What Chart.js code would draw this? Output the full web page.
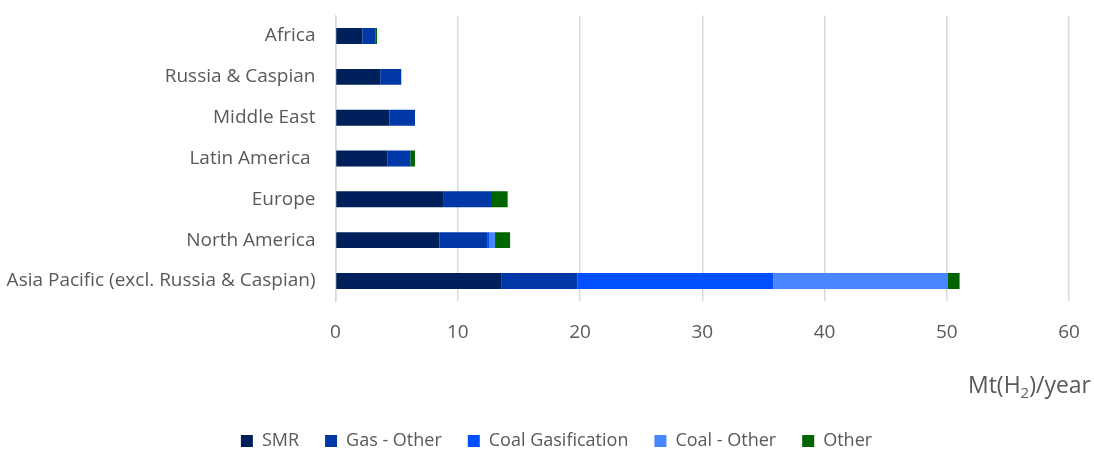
<!DOCTYPE html>
<html>
<head>
<meta charset="utf-8">
<script src="https://cdn.jsdelivr.net/npm/chart.js@4"></script>
<style>
  html, body { margin: 0; padding: 0; background: #fff; }
  #wrap { width: 1094px; height: 450px; }
</style>
</head>
<body>
<div id="wrap"><canvas id="chart" width="1094" height="450"></canvas></div>
<script>
const regions = ["Africa", "Russia & Caspian", "Middle East", "Latin America ", "Europe", "North America", "Asia Pacific (excl. Russia & Caspian)"];
const smr = [2.2, 3.66, 4.4, 4.23, 8.8, 8.5, 13.6];
const gasOther = [1.05, 1.72, 2.1, 1.89, 4.0, 3.9, 6.2];
const coalGasification = [0, 0, 0, 0, 0, 0.2, 16.0];
const coalOther = [0, 0, 0, 0, 0, 0.45, 14.3];
const other = [0.15, 0, 0, 0.38, 1.28, 1.23, 0.95];
const xTicks = [0, 10, 20, 30, 40, 50, 60];

const textColor = "#595959";
const font = "'Open Sans', sans-serif";

// axis title with a subscript 2, drawn under the right end of the x axis
const unitTitle = {
    id: "unitTitle",
    afterDraw(chart) {
        let ctx = chart.ctx;
        ctx.save();
        ctx.fillStyle = textColor;
        ctx.textBaseline = "alphabetic";
        let big = "23px " + font, small = "15px " + font;
        ctx.font = big;
        let w1 = ctx.measureText("Mt(H").width;
        let w3 = ctx.measureText(")/year").width;
        ctx.font = small;
        let w2 = ctx.measureText("2").width;
        let x = 1091 - (w1 + w2 + w3);
        let y = 393;
        ctx.font = big;
        ctx.fillText("Mt(H", x, y);
        ctx.font = small;
        ctx.fillText("2", x + w1, y + 5);
        ctx.font = big;
        ctx.fillText(")/year", x + w1 + w2, y);
        ctx.restore();
    }
};

// nudge the legend row down and right
const legendShift = {
    id: "legendShift",
    afterLayout(chart) {
        let lg = chart.legend;
        if (!lg) return;
        lg.top += 10;
        lg.bottom += 10;
        lg.left += 22;
        lg.right += 22;
        if (lg.adjustHitBoxes) lg.adjustHitBoxes();
    }
};

let ctx = document.getElementById("chart").getContext("2d");

let chart = new Chart(ctx, {
    type: "bar",
    data: {
        labels: regions,
        datasets: [
            { label: "SMR", data: smr, backgroundColor: "#00205B" },
            { label: "Gas - Other", data: gasOther, backgroundColor: "#0038A8" },
            { label: "Coal Gasification", data: coalGasification, backgroundColor: "#0050FF" },
            { label: "Coal - Other", data: coalOther, backgroundColor: "#4A86FF" },
            { label: "Other", data: other, backgroundColor: "#006400" }
        ]
    },
    options: {
        indexAxis: "y",
        responsive: false,
        animation: false,
        datasets: { bar: { categoryPercentage: 1, barPercentage: 0.39 } },
        layout: { padding: { top: 15.6, right: 25, left: 0, bottom: 0 } },
        scales: {
            x: {
                stacked: true,
                min: 0,
                max: 60,
                afterBuildTicks: scale => { scale.ticks = xTicks.map(v => ({ value: v })); },
                afterFit: scale => {
                    scale.height = 94.6;
                    scale.paddingLeft = 0;
                    scale.paddingRight = 0;
                },
                grid: { color: "#d9d9d9", lineWidth: 1.5, drawTicks: false },
                border: { display: false },
                ticks: { color: textColor, font: { family: font, size: 19 }, padding: 20 }
            },
            y: {
                stacked: true,
                afterFit: scale => {
                    scale.width = 335.5;
                    scale.paddingTop = 0;
                    scale.paddingBottom = 0;
                },
                grid: { display: false, drawTicks: false },
                border: { display: true, color: "#d9d9d9", width: 1.5 },
                ticks: { color: textColor, font: { family: font, size: 19 }, padding: 20 }
            }
        },
        plugins: {
            legend: {
                position: "bottom",
                labels: {
                    boxWidth: 12,
                    boxHeight: 12,
                    padding: 26,
                    color: textColor,
                    font: { family: font, size: 18 }
                }
            },
            tooltip: { enabled: false }
        }
    },
    plugins: [unitTitle, legendShift]
});
</script>
</body>
</html>
